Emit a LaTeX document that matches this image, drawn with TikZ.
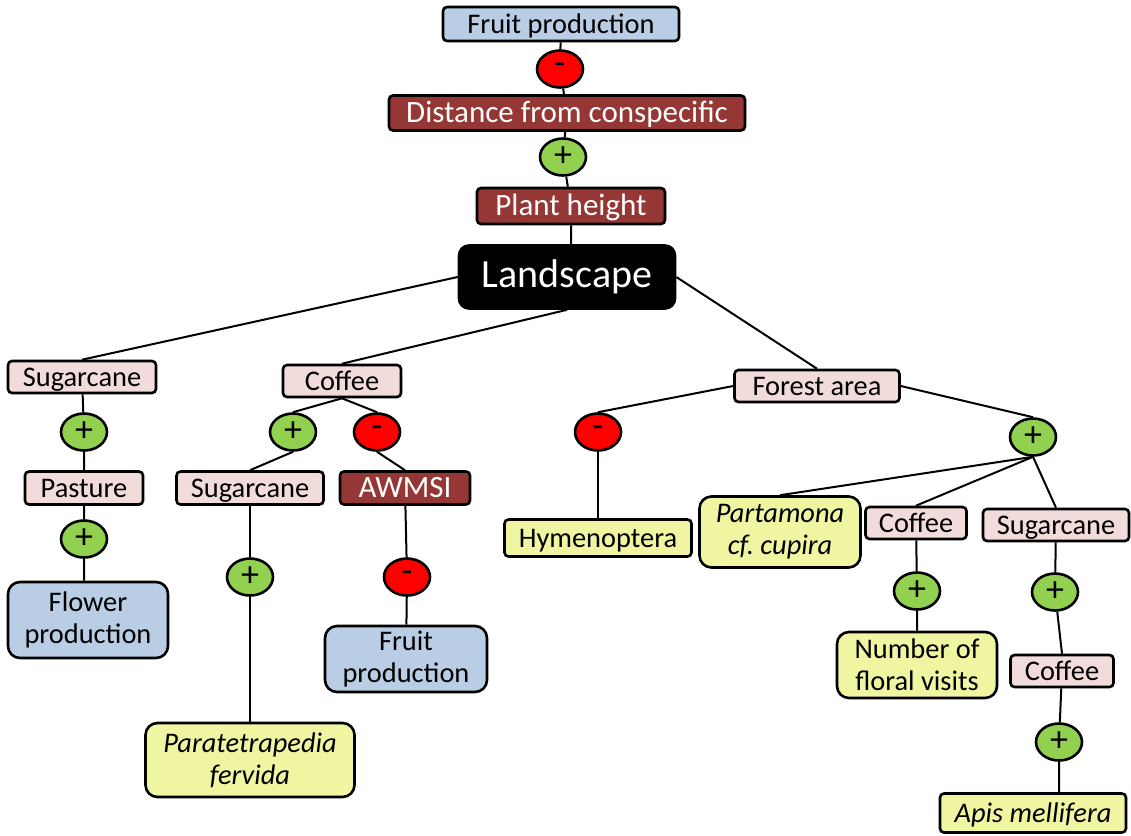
\documentclass[tikz,border=0pt]{standalone}
\usepackage{fontspec}
\setmainfont{Carlito}
\usetikzlibrary{shapes.geometric}
\definecolor{paleblue}{HTML}{B9CDE5}
\definecolor{palepink}{HTML}{F2DCDB}
\definecolor{brickred}{HTML}{953735}
\definecolor{paleyellow}{HTML}{F0F5A2}
\definecolor{signgreen}{HTML}{92D050}
\tikzset{
  box/.style={draw,line width=1.3pt,rounded corners=2pt,inner sep=0pt,font=\fontsize{14.2}{16}\selectfont},
  onebox/.style={box,text height=11pt,text depth=2pt},
  habitat/.style={onebox,fill=palepink},
  trait/.style={onebox,fill=brickred,text=white,font=\fontsize{15.5}{17}\selectfont},
  response/.style={box,fill=paleblue,rounded corners=6pt,align=center},
  taxon/.style={box,fill=paleyellow,rounded corners=6pt,align=center,font=\fontsize{14.2}{16}\selectfont\itshape},
  sign/.style={ellipse,draw,line width=1.3pt,minimum width=23pt,minimum height=18.5pt,inner sep=0pt,font=\fontsize{18}{18}\selectfont},
  link/.style={line width=1pt},
}
\newcommand\posnode[2]{\node(#1)[sign,fill=signgreen] at (#2) {+};}
\newcommand\negnode[2]{\node(#1)[sign,fill=red] at (#2) {-};}

\begin{document}
\begin{tikzpicture}[x=0.5pt,y=-0.5pt]
\useasboundingbox (0,0) rectangle (1131,836);
% top chain
\node(fruittop)[onebox,fill=paleblue,minimum width=118pt,minimum height=17pt] at (561,24) {Fruit production};
\negnode{n1}{560,69}
\node(dist)[trait,minimum width=178pt,minimum height=17.5pt] at (567,113) {Distance from conspecific};
\posnode{p1}{563,157}
\node(height)[trait,minimum width=94pt,minimum height=18pt] at (571,206) {Plant height};
\node(land)[box,fill=black,text=white,rounded corners=5pt,minimum width=108pt,minimum height=31.5pt,font=\fontsize{20}{22}\selectfont] at (567,277) {Landscape};
% left branch
\node(sug1)[habitat,minimum width=74pt,minimum height=16pt] at (82,377) {Sugarcane};
\posnode{p2}{84,432}
\node(past)[habitat,minimum width=59pt,minimum height=16.5pt] at (84,488) {Pasture};
\posnode{p3}{84,539}
\node(flower)[response,minimum width=80pt,minimum height=38pt] at (88,620) {Flower\\production};
% coffee branch
\node(cof1)[habitat,minimum width=59pt,minimum height=16pt] at (342,381) {Coffee};
\posnode{p4}{293,432}
\negnode{n2}{377,432}
\node(sug2)[habitat,minimum width=73.5pt,minimum height=16.5pt] at (250,488) {Sugarcane};
\node(awmsi)[trait,minimum width=65pt,minimum height=16.5pt] at (405,488) {AWMSI};
\posnode{p5}{250,577}
\negnode{n3}{407,577}
\node(fruit2)[response,minimum width=81pt,minimum height=33pt] at (406,659) {Fruit\\production};
\node(para)[taxon,minimum width=104.5pt,minimum height=37pt] at (250,760) {Paratetrapedia\\fervida};
% forest branch
\node(forest)[habitat,minimum width=82.5pt,minimum height=16pt] at (817,386) {Forest area};
\negnode{n4}{598,432}
\posnode{p6}{1033,437}
\node(hymen)[onebox,fill=paleyellow,minimum width=93.5pt,minimum height=18.5pt] at (598,538) {Hymenoptera};
\node(part)[taxon,minimum width=80.5pt,minimum height=35.5pt] at (780,532) {Partamona\\cf.\ cupira};
\node(cof2)[habitat,minimum width=50.5pt,minimum height=16pt] at (916,523) {Coffee};
\node(sug3)[habitat,minimum width=73pt,minimum height=16pt] at (1056,525) {Sugarcane};
\posnode{p7}{917,591}
\posnode{p8}{1055,592}
\node(floral)[response,fill=paleyellow,minimum width=80pt,minimum height=33pt] at (917,665) {Number of\\floral visits};
\node(cof3)[habitat,minimum width=51.5pt,minimum height=16pt] at (1062,671) {Coffee};
\posnode{p9}{1059,742}
\node(apis)[onebox,fill=paleyellow,font=\fontsize{14.2}{16}\selectfont\itshape,minimum width=93pt,minimum height=19.5pt] at (1033,813) {Apis mellifera};
% links
\draw[link] (fruittop) -- (n1) -- (dist) -- (p1) -- (height) -- (height.south |- land.north);
\draw[link] (land.west) -- (sug1.north);
\draw[link] (land.south) -- (cof1.north);
\draw[link] (land.east) -- (forest.north);
\draw[link] (sug1) -- (p2) -- (past) -- (p3) -- (p3.south |- flower.north);
\draw[link] (cof1.south) -- (p4.north);
\draw[link] (cof1.south) -- (n2.north);
\draw[link] (p4.south) -- (sug2.north);
\draw[link] (n2.south) -- (awmsi.north);
\draw[link] (sug2) -- (p5) -- (para);
\draw[link] (awmsi) -- (n3) -- (fruit2);
\draw[link] (forest.west) -- (n4.north);
\draw[link] (forest.east) -- (p6.north);
\draw[link] (n4) -- (hymen);
\draw[link] (p6.south) -- (part.north);
\draw[link] (p6.south) -- (cof2.north);
\draw[link] (p6.south) -- (sug3.north);
\draw[link] (cof2) -- (p7) -- (floral);
\draw[link] (sug3) -- (p8) -- (cof3.north);
\draw[link] (cof3) -- (p9) -- (p9.south |- apis.north);
\end{tikzpicture}
\end{document}
